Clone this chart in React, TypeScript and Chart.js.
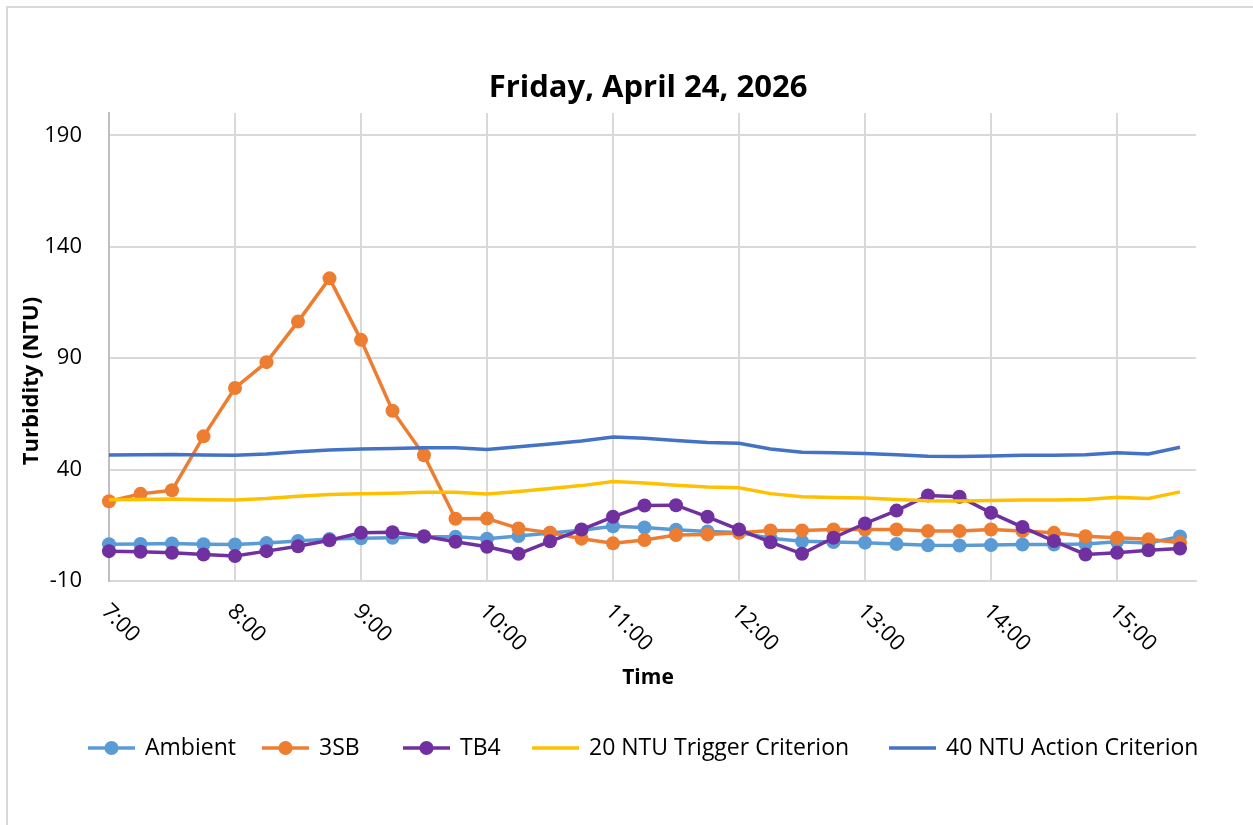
import React, { useEffect, useRef } from "react";
import { Chart, registerables } from "chart.js";

Chart.register(...registerables);

const TITLE = "Friday, April 24, 2026";
const Y_TITLE = "Turbidity (NTU)";
const X_TITLE = "Time";

const TIMES = [
  "7:00", "7:15", "7:30", "7:45", "8:00", "8:15", "8:30", "8:45",
  "9:00", "9:15", "9:30", "9:45", "10:00", "10:15", "10:30", "10:45",
  "11:00", "11:15", "11:30", "11:45", "12:00", "12:15", "12:30", "12:45",
  "13:00", "13:15", "13:30", "13:45", "14:00", "14:15", "14:30", "14:45",
  "15:00", "15:15", "15:30",
];

const HOUR_LABELS = ["7:00", "8:00", "9:00", "10:00", "11:00", "12:00", "13:00", "14:00", "15:00"];
const Y_TICKS = [-10, 40, 90, 140, 190];

const AMBIENT = [
  6.5, 6.6, 6.8, 6.5, 6.4, 7.0, 8.0, 8.8, 9.2, 9.4, 9.8, 9.8, 9.0, 10.2, 11.5, 12.8,
  14.6, 14.0, 13.0, 12.2, 11.8, 9.2, 7.8, 7.5, 7.2, 6.6, 6.0, 5.9, 6.1, 6.4, 6.4, 6.6,
  7.6, 7.0, 10.0,
];
const SB3 = [
  25.8, 29.1, 30.7, 54.9, 76.6, 88.2, 106.4, 125.8, 98.2, 66.4, 46.4, 17.9, 18.0, 13.6, 11.7, 9.0,
  6.9, 8.4, 10.6, 10.9, 11.6, 12.7, 12.7, 13.1, 13.1, 13.1, 12.4, 12.4, 13.1, 12.4, 11.6, 10.1,
  9.4, 8.7, 7.2,
];
const TB4 = [
  3.4, 3.1, 2.7, 1.9, 1.2, 3.4, 5.6, 8.3, 11.6, 11.9, 10.1, 7.6, 5.4, 2.2, 7.8, 13.1,
  18.8, 23.9, 24.0, 18.8, 13.1, 7.4, 2.2, 9.4, 15.8, 21.6, 28.4, 27.8, 20.6, 14.2, 7.9, 1.9,
  2.7, 3.8, 4.6,
];
const TRIGGER = [
  26.5, 26.6, 26.8, 26.5, 26.4, 27.0, 28.0, 28.8, 29.2, 29.4, 29.8, 29.8, 29.0, 30.2, 31.5, 32.8,
  34.6, 34.0, 33.0, 32.2, 31.8, 29.2, 27.8, 27.5, 27.2, 26.6, 26.0, 25.9, 26.1, 26.4, 26.4, 26.6,
  27.6, 27.0, 30.0,
];
const ACTION = [
  46.5, 46.6, 46.8, 46.5, 46.4, 47.0, 48.0, 48.8, 49.2, 49.4, 49.8, 49.8, 49.0, 50.2, 51.5, 52.8,
  54.6, 54.0, 53.0, 52.2, 51.8, 49.2, 47.8, 47.5, 47.2, 46.6, 46.0, 45.9, 46.1, 46.4, 46.4, 46.6,
  47.6, 47.0, 50.0,
];

const SERIES_NAMES = ["Ambient", "3SB", "TB4", "20 NTU Trigger Criterion", "40 NTU Action Criterion"];
const SERIES_COLORS = ["#5B9BD5", "#ED7D31", "#7030A0", "#FFC000", "#4472C4"];
const SERIES_VALUES = [AMBIENT, SB3, TB4, TRIGGER, ACTION];
const SERIES_MARKERS = [true, true, true, false, false];

const FONT = "'Open Sans', sans-serif";
const W = 1245;
const H = 817;
const LEGEND_X = [80, 254, 395, 524, 881];

const toHours = (t: string) => {
  const [h, m] = t.split(":").map(Number);
  return h + m / 60;
};

const decorPlugin = {
  id: "decor",
  afterDraw(chart: any) {
    const ctx = chart.ctx as CanvasRenderingContext2D;
    const xs = chart.scales.x;
    const area = chart.chartArea;
    ctx.save();
    ctx.fillStyle = "#000";

    ctx.font = `bold 31px ${FONT}`;
    ctx.textAlign = "center";
    ctx.textBaseline = "middle";
    ctx.fillText(TITLE, 640, 80);

    ctx.font = `22px ${FONT}`;
    HOUR_LABELS.forEach((lab) => {
      const px = xs.getPixelForValue(toHours(lab));
      ctx.save();
      ctx.translate(px - 4, area.bottom + 27);
      ctx.rotate(Math.PI / 4);
      ctx.textAlign = "left";
      ctx.textBaseline = "middle";
      ctx.fillText(lab, 0, 0);
      ctx.restore();
    });

    ctx.font = `bold 21px ${FONT}`;
    ctx.textAlign = "center";
    ctx.textBaseline = "middle";
    ctx.fillText(X_TITLE, 640, 670);

    ctx.font = `bold 22px ${FONT}`;
    ctx.save();
    ctx.translate(24, 373);
    ctx.rotate(-Math.PI / 2);
    ctx.fillText(Y_TITLE, 0, 0);
    ctx.restore();

    const ly = 740;
    ctx.font = `23px ${FONT}`;
    ctx.textAlign = "left";
    SERIES_NAMES.forEach((name, i) => {
      const lx = LEGEND_X[i];
      ctx.strokeStyle = SERIES_COLORS[i];
      ctx.lineWidth = 3.5;
      ctx.beginPath();
      ctx.moveTo(lx, ly);
      ctx.lineTo(lx + 47, ly);
      ctx.stroke();
      if (SERIES_MARKERS[i]) {
        ctx.fillStyle = SERIES_COLORS[i];
        ctx.beginPath();
        ctx.arc(lx + 23.5, ly, 7, 0, Math.PI * 2);
        ctx.fill();
      }
      ctx.fillStyle = "#000";
      ctx.fillText(name, lx + 57, ly);
    });
    ctx.restore();
  },
};

export default function App() {
  const ref = useRef<HTMLCanvasElement | null>(null);

  useEffect(() => {
    if (!ref.current) return;
    const datasets = SERIES_NAMES.map((name, i) => ({
      label: name,
      data: TIMES.map((t, k) => ({ x: toHours(t), y: SERIES_VALUES[i][k] })),
      borderColor: SERIES_COLORS[i],
      backgroundColor: SERIES_COLORS[i],
      borderWidth: 3.5,
      pointRadius: SERIES_MARKERS[i] ? 7 : 0,
      pointBorderWidth: 0,
      pointBackgroundColor: SERIES_COLORS[i],
      tension: 0,
      clip: false as any,
      order: SERIES_NAMES.length - 1 - i,
    }));
    const chart = new Chart(ref.current, {
      type: "line",
      data: { datasets },
      options: {
        animation: false,
        responsive: false,
        devicePixelRatio: 1,
        layout: { padding: { left: 21, right: 57, top: 105, bottom: 244 } },
        plugins: { legend: { display: false }, title: { display: false }, tooltip: { enabled: false } },
        scales: {
          x: {
            type: "linear",
            min: 7,
            max: 15.627,
            afterBuildTicks: (s: any) => {
              s.ticks = HOUR_LABELS.map((l) => ({ value: toHours(l) }));
            },
            afterFit: (s: any) => {
              s.height = 0;
            },
            ticks: { display: false },
            grid: { color: "#d9d9d9", lineWidth: 2, drawTicks: false },
            border: { color: "#d9d9d9", width: 2 },
          },
          y: {
            type: "linear",
            min: -10,
            max: 200,
            afterBuildTicks: (s: any) => {
              s.ticks = Y_TICKS.map((v) => ({ value: v }));
            },
            afterFit: (s: any) => {
              s.width = 80;
            },
            ticks: { color: "#000", font: { family: FONT, size: 22 }, padding: 27 },
            grid: { color: "#d9d9d9", lineWidth: 2, drawTicks: false },
            border: { color: "#bfbfbf", width: 2 },
          },
        },
      },
      plugins: [decorPlugin],
    });
    return () => chart.destroy();
  }, []);

  return (
    <div
      style={{
        position: "fixed",
        left: 6,
        top: 6,
        right: 0,
        bottom: 0,
        borderLeft: "2px solid #d9d9d9",
        borderTop: "2px solid #d9d9d9",
        background: "#fff",
        overflow: "hidden",
      }}
    >
      <canvas ref={ref} width={W} height={H} style={{ display: "block", width: W, height: H }} />
    </div>
  );
}
